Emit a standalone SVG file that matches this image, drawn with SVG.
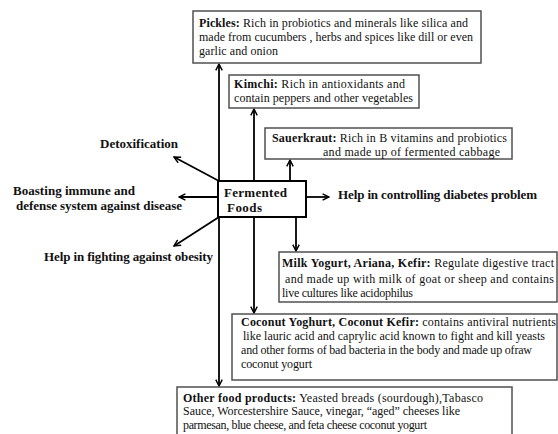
<svg xmlns="http://www.w3.org/2000/svg" width="558" height="434" viewBox="0 0 558 434">
<defs>
<marker id="ah" viewBox="0 0 10 10" refX="9" refY="5" markerWidth="8" markerHeight="8" markerUnits="userSpaceOnUse" orient="auto">
<path d="M1,1 L9,5 L1,9" fill="none" stroke="#000" stroke-width="1.8"/>
</marker>
<style>
.box{fill:#fff;stroke:#505050;stroke-width:1.5}
.main{fill:#fff;stroke:#000;stroke-width:2}
.t{font-family:"Liberation Serif","Times New Roman",serif;font-size:12px;fill:#111}
.b{font-weight:bold}
.lb{font-family:"Liberation Serif","Times New Roman",serif;font-size:13px;font-weight:bold;fill:#111}
.c{stroke:#000;stroke-width:1.8;fill:none;marker-end:url(#ah)}
</style>
</defs>
<rect width="558" height="434" fill="#fff"/>
<g id="connectors">
<line class="c" x1="219" y1="181" x2="219" y2="64"/>
<line class="c" x1="219" y1="217" x2="219" y2="386"/>
<line class="c" x1="254" y1="181" x2="254" y2="109"/>
<line class="c" x1="254" y1="217" x2="254" y2="313"/>
<line class="c" x1="290" y1="181" x2="290" y2="160"/>
<line class="c" x1="296" y1="217" x2="296" y2="251"/>
<line class="c" x1="306" y1="197" x2="329" y2="197"/>
<line class="c" x1="219" y1="181" x2="174" y2="157"/>
<line class="c" x1="219" y1="197" x2="179" y2="197"/>
<line class="c" x1="219" y1="217" x2="174" y2="246"/>
</g>
<g id="fermented">
<rect class="main" x="218" y="181" width="88" height="36"/>
<text class="lb" x="224" y="197" textLength="63">Fermented</text>
<text class="lb" x="227" y="212" textLength="35">Foods</text>
</g>
<g id="pickles">
<rect class="box" x="193" y="11" width="288" height="52"/>
<text class="t" x="199" y="27" textLength="269"><tspan class="b">Pickles:</tspan> Rich in probiotics and minerals like silica and</text>
<text class="t" x="199" y="41" textLength="274">made from cucumbers , herbs and spices like dill or even</text>
<text class="t" x="199" y="55" textLength="79">garlic and onion</text>
</g>
<g id="kimchi">
<rect class="box" x="229" y="75" width="190" height="33"/>
<text class="t" x="234" y="88" textLength="171"><tspan class="b">Kimchi:</tspan> Rich in antioxidants and</text>
<text class="t" x="234" y="102" textLength="179">contain peppers and other vegetables</text>
</g>
<g id="sauerkraut">
<rect class="box" x="265" y="128" width="247" height="31"/>
<text class="t" x="272" y="142" textLength="235"><tspan class="b">Sauerkraut:</tspan> Rich in B vitamins and probiotics</text>
<text class="t" x="323" y="156" textLength="177">and made up of fermented cabbage</text>
</g>
<g id="milk">
<rect class="box" x="279" y="252" width="278" height="50"/>
<text class="t" x="282" y="267" textLength="272"><tspan class="b">Milk Yogurt, Ariana, Kefir:</tspan> Regulate digestive tract</text>
<text class="t" x="285" y="283" textLength="269">and made up with milk of goat or sheep and contains</text>
<text class="t" x="282" y="297" textLength="131">live cultures like acidophilus</text>
</g>
<g id="coconut">
<rect class="box" x="232" y="314" width="325" height="66"/>
<text class="t" x="241" y="326" textLength="315"><tspan class="b">Coconut Yoghurt, Coconut Kefir:</tspan> contains antiviral nutrients</text>
<text class="t" x="243" y="340" textLength="302">like lauric acid and caprylic acid known to fight and kill yeasts</text>
<text class="t" x="241" y="354" textLength="291">and other forms of bad bacteria in the body and made up ofraw</text>
<text class="t" x="241" y="368" textLength="71">coconut yogurt</text>
</g>
<g id="other">
<rect class="box" x="177" y="387" width="335" height="60"/>
<text class="t" x="183" y="402" textLength="300"><tspan class="b">Other food products:</tspan> Yeasted breads (sourdough),Tabasco</text>
<text class="t" x="183" y="415" textLength="277">Sauce, Worcestershire Sauce, vinegar, “aged” cheeses like</text>
<text class="t" x="183" y="429" textLength="244">parmesan, blue cheese, and feta cheese coconut yogurt</text>
</g>
<g id="detox"><text class="lb" x="100" y="148" textLength="78">Detoxification</text></g>
<g id="immune">
<text class="lb" x="13" y="195" textLength="122">Boasting immune and</text>
<text class="lb" x="16" y="210" textLength="166">defense system against disease</text>
</g>
<g id="obesity"><text class="lb" x="44" y="261" textLength="169">Help in fighting against obesity</text></g>
<g id="diabetes"><text class="lb" x="338" y="199" textLength="199">Help in controlling diabetes problem</text></g>
</svg>
